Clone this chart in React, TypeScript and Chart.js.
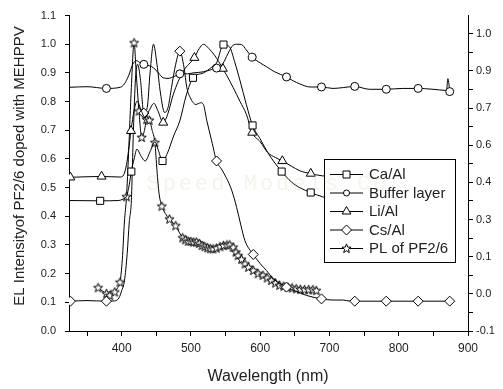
import React, { useEffect, useRef } from 'react';
import { Chart, registerables } from 'chart.js';

Chart.register(...registerables);

// ---------- data ----------
const X_TICKS = [350, 400, 450, 500, 550, 600, 650, 700, 750, 800, 850, 900];
const LEFT_TICKS = [0, 0.1, 0.2, 0.3, 0.4, 0.5, 0.6, 0.7, 0.8, 0.9, 1.0, 1.1];
const RIGHT_TICK_LABELS = ['-0.1', '0.0', '0.1', '0.3', '0.4', '0.6', '0.7', '0.9', '1.0'];

const LEGEND_LABELS = ['Ca/Al', 'Buffer layer', 'Li/Al', 'Cs/Al', 'PL of PF2/6'];

const CA_AL_NM = [325, 369, 395, 402, 407, 411, 414, 418, 422, 428, 434, 441, 448, 453, 459, 466, 475, 484, 493, 503, 518, 530, 537, 547, 556, 563, 571, 580, 589, 600, 611, 620, 631, 645, 657, 673, 690, 700];
const CA_AL_I = [0.455, 0.454, 0.455, 0.46, 0.47, 0.51, 0.556, 0.6, 0.634, 0.61, 0.593, 0.625, 0.66, 0.63, 0.593, 0.62, 0.68, 0.733, 0.82, 0.883, 0.9, 0.92, 0.935, 0.999, 0.99, 0.94, 0.872, 0.79, 0.717, 0.67, 0.622, 0.59, 0.556, 0.52, 0.5, 0.483, 0.468, 0.462];
const CA_AL_MARKS = [369, 414, 459, 503, 547, 589, 631, 673];

const BUFFER_NM = [325, 350, 378, 398, 404, 410, 416, 421, 427, 432, 440, 446, 453, 460, 467, 477, 484, 495, 503, 518, 530, 537, 544, 549, 554, 561, 566, 573, 580, 588.5, 600, 609, 620, 638, 648, 657, 672, 688.5, 705, 720, 736.5, 758, 782, 806, 828, 849.5, 869, 871, 872.5, 873.6];
const BUFFER_I = [0.85, 0.852, 0.846, 0.85, 0.862, 0.89, 0.93, 0.943, 0.935, 0.93, 0.925, 0.918, 0.9, 0.883, 0.881, 0.889, 0.897, 0.897, 0.9, 0.904, 0.912, 0.917, 0.924, 0.945, 0.97, 0.997, 1.0, 0.999, 0.98, 0.955, 0.935, 0.922, 0.905, 0.886, 0.872, 0.862, 0.851, 0.851, 0.846, 0.849, 0.853, 0.843, 0.843, 0.846, 0.846, 0.843, 0.839, 0.88, 0.86, 0.835];
const BUFFER_MARKS = [378, 432, 484, 537, 588.5, 638, 688.5, 736.5, 782, 828, 873.6];

const LI_AL_NM = [326, 371, 398, 403, 407, 410, 413.5, 418, 422.5, 428, 434, 440, 446.5, 452, 460, 467, 474.5, 489, 505, 512, 518, 526, 534, 540, 546, 552, 561, 571, 580, 588.5, 600, 611, 622, 632, 645, 657, 673, 690, 700];
const LI_AL_I = [0.536, 0.539, 0.537, 0.545, 0.58, 0.63, 0.698, 0.77, 0.802, 0.77, 0.744, 0.77, 0.794, 0.77, 0.727, 0.76, 0.825, 0.906, 0.953, 0.985, 1.0, 0.985, 0.962, 0.94, 0.915, 0.89, 0.849, 0.8, 0.756, 0.692, 0.66, 0.622, 0.605, 0.593, 0.575, 0.559, 0.549, 0.541, 0.54];
const LI_AL_MARKS = [326, 371, 413.5, 460, 505, 546, 588.5, 632, 673];

const CS_AL_NM = [326, 350, 378, 390, 396, 400, 404, 408, 411, 414, 417, 420, 423, 427, 432, 437, 441, 446, 451, 456, 462, 467, 472, 478, 484, 490, 494, 499, 507, 514, 518, 523, 530, 537, 544, 551, 559, 566, 572, 578, 590, 600, 609, 620, 638, 652, 667, 688.5, 705, 720, 730, 736.5, 782, 828, 873.6];
const CS_AL_I = [0.104, 0.106, 0.104, 0.105, 0.115, 0.14, 0.175, 0.27, 0.38, 0.454, 0.7, 0.88, 0.93, 0.88, 0.76, 0.78, 0.9, 1.0, 0.93, 0.83, 0.762, 0.78, 0.85, 0.93, 0.976, 0.92, 0.85, 0.814, 0.79, 0.796, 0.79, 0.733, 0.663, 0.593, 0.565, 0.535, 0.49, 0.431, 0.37, 0.315, 0.267, 0.235, 0.211, 0.18, 0.153, 0.138, 0.124, 0.112, 0.108, 0.108, 0.104, 0.104, 0.104, 0.104, 0.104];
const CS_AL_MARKS = [326, 378, 432, 484, 537, 590, 638, 688.5, 736.5, 782, 828, 873.6];

const PL_NM = [366, 372, 378, 383, 387, 390, 394, 397.6, 401, 404, 407, 410, 414, 418, 421, 425, 429, 433, 436, 440, 444, 448, 451, 454, 458, 463, 469, 473, 478, 483, 488, 492, 496, 500, 504, 508, 512, 516, 520, 524, 528, 532, 537, 542, 547, 552, 556, 561, 565, 568, 573, 578, 583, 590, 597, 604, 610, 616, 622, 628, 634, 640, 646, 652, 658, 664, 670, 676, 681];
const PL_I = [0.151, 0.14, 0.13, 0.124, 0.13, 0.136, 0.15, 0.17, 0.25, 0.38, 0.468, 0.62, 0.85, 1.005, 0.9, 0.767, 0.675, 0.7, 0.738, 0.735, 0.7, 0.657, 0.56, 0.48, 0.435, 0.41, 0.39, 0.38, 0.367, 0.345, 0.325, 0.318, 0.313, 0.312, 0.31, 0.31, 0.305, 0.298, 0.294, 0.29, 0.287, 0.286, 0.289, 0.294, 0.298, 0.3, 0.3, 0.292, 0.275, 0.263, 0.25, 0.234, 0.222, 0.211, 0.2, 0.194, 0.185, 0.176, 0.167, 0.159, 0.156, 0.153, 0.15, 0.147, 0.145, 0.144, 0.144, 0.144, 0.141];
const PL_MARKS = [366, 378, 383, 390, 397.6, 407, 418, 425, 429, 436, 440, 448, 458, 469, 478, 488, 492, 496, 500, 504, 508, 512, 516, 520, 524, 528, 532, 537, 542, 547, 552, 556, 561, 565, 568, 573, 578, 583, 590, 597, 604, 610, 616, 622, 628, 634, 640, 646, 652, 658, 664, 670, 676, 681];

// ---------- helpers ----------
const FONT = '"Liberation Sans", Arial, sans-serif';

function starPath(g: CanvasRenderingContext2D, cx: number, cy: number, ro: number, ri: number) {
  g.beginPath();
  for (let i = 0; i < 10; i++) {
    const r = i % 2 === 0 ? ro : ri;
    const a = -Math.PI / 2 + (i * Math.PI) / 5;
    const px = cx + r * Math.cos(a);
    const py = cy + r * Math.sin(a);
    if (i === 0) g.moveTo(px, py);
    else g.lineTo(px, py);
  }
  g.closePath();
}

function makeStar(): HTMLCanvasElement {
  const c = document.createElement('canvas');
  c.width = 11;
  c.height = 11;
  const g = c.getContext('2d')!;
  starPath(g, 5.5, 5.7, 4.8, 2.0);
  g.fillStyle = '#fff';
  g.fill();
  g.strokeStyle = '#000';
  g.lineWidth = 1;
  g.stroke();
  return c;
}

function drawMarker(g: CanvasRenderingContext2D, kind: string, x: number, y: number, star: HTMLCanvasElement) {
  g.save();
  g.fillStyle = '#fff';
  g.strokeStyle = '#000';
  g.lineWidth = 1;
  g.beginPath();
  if (kind === 'rect') {
    g.rect(x - 3.5, y - 3.5, 7, 7);
  } else if (kind === 'circle') {
    g.arc(x, y, 3, 0, Math.PI * 2);
  } else if (kind === 'triangle') {
    const r = 5;
    g.moveTo(x, y - r);
    g.lineTo(x + r * 0.866, y + r * 0.5);
    g.lineTo(x - r * 0.866, y + r * 0.5);
    g.closePath();
  } else if (kind === 'rectRot') {
    const r = 5;
    g.moveTo(x, y - r);
    g.lineTo(x + r, y);
    g.lineTo(x, y + r);
    g.lineTo(x - r, y);
    g.closePath();
  } else {
    g.drawImage(star, x - star.width / 2, y - star.height / 2);
    g.restore();
    return;
  }
  g.fill();
  g.stroke();
  g.restore();
}

export default function App() {
  const ref = useRef<HTMLCanvasElement | null>(null);

  useEffect(() => {
    const canvas = ref.current;
    if (!canvas) return;
    const star = makeStar();
    const styles: any[] = ['rect', 'circle', 'triangle', 'rectRot', star];
    const legendKinds = ['rect', 'circle', 'triangle', 'rectRot', 'star'];
    const radii = [5, 4, 5.2, 5, 5];

    const series = [
      { nm: CA_AL_NM, v: CA_AL_I, marks: CA_AL_MARKS },
      { nm: BUFFER_NM, v: BUFFER_I, marks: BUFFER_MARKS },
      { nm: LI_AL_NM, v: LI_AL_I, marks: LI_AL_MARKS },
      { nm: CS_AL_NM, v: CS_AL_I, marks: CS_AL_MARKS },
      { nm: PL_NM, v: PL_I, marks: PL_MARKS },
    ];

    const datasets = series.map((s, k) => ({
      label: LEGEND_LABELS[k],
      data: s.nm.map((x, i) => ({ x, y: s.v[i] })),
      borderColor: '#000',
      borderWidth: 1,
      backgroundColor: '#fff',
      pointBackgroundColor: '#fff',
      pointBorderColor: '#000',
      pointBorderWidth: 1,
      pointStyle: styles[k],
      pointRadius: (c: any) => (c.raw && s.marks.includes(c.raw.x) ? radii[k] : 0),
      pointHoverRadius: 0,
      cubicInterpolationMode: 'monotone' as const,
      fill: false,
      yAxisID: 'y',
    }));

    const overlay = {
      id: 'overlay',
      afterDatasetsDraw(chart: any) {
        const g: CanvasRenderingContext2D = chart.ctx;
        g.save();
        // legend box
        g.fillStyle = '#fff';
        g.fillRect(324, 159, 131, 103);
        g.strokeStyle = '#000';
        g.lineWidth = 1;
        g.strokeRect(324.5, 159.5, 131, 103);
        g.font = `15px ${FONT}`;
        g.textBaseline = 'middle';
        g.textAlign = 'left';
        for (let i = 0; i < LEGEND_LABELS.length; i++) {
          const y = 174 + i * 18.5;
          g.beginPath();
          g.moveTo(330, y + 0.5);
          g.lineTo(363, y + 0.5);
          g.strokeStyle = '#000';
          g.stroke();
          drawMarker(g, legendKinds[i], 346.5, y + 0.5, star);
          g.fillStyle = '#222';
          g.fillText(LEGEND_LABELS[i], 369, y + 1);
        }
        g.restore();
      },
      afterDraw(chart: any) {
        const g: CanvasRenderingContext2D = chart.ctx;
        g.save();
        g.fillStyle = '#222';
        g.textAlign = 'center';
        g.textBaseline = 'middle';
        g.font = `16px ${FONT}`;
        g.fillText('Wavelength (nm)', 268, 377);
        g.translate(20, 166);
        g.rotate(-Math.PI / 2);
        g.font = `15px ${FONT}`;
        g.fillText('EL Intensityof PF2/6 doped with MEHPPV', 0, 0);
        g.restore();
        // faint watermark
        g.save();
        g.fillStyle = 'rgba(200,190,150,0.18)';
        g.font = `22px "Liberation Mono", monospace`;
        g.textAlign = 'center';
        g.textBaseline = 'middle';
        try { (g as any).letterSpacing = '3px'; } catch (e) {}
        g.fillText('Speed Models Co', 268, 184);
        g.restore();
      },
    };

    const tickFont = { size: 11, family: FONT };

    const chart = new Chart(canvas, {
      type: 'line',
      data: { datasets: datasets as any },
      options: {
        responsive: false,
        animation: false,
        events: [],
        layout: { padding: { top: 14, left: 0, right: 0, bottom: 0 } },
        plugins: { legend: { display: false }, tooltip: { enabled: false } },
        scales: {
          x: {
            type: 'linear',
            min: 324,
            max: 900,
            afterBuildTicks: (s: any) => {
              s.ticks = X_TICKS.map((v) => ({ value: v }));
            },
            afterFit: (s: any) => {
              s.height = 58;
            },
            ticks: {
              autoSkip: false,
              maxRotation: 0,
              padding: 5,
              color: '#222',
              font: { size: 12, family: FONT },
              callback: (v: any) => (v % 100 === 0 ? String(v) : ''),
            },
            grid: { drawOnChartArea: false, drawTicks: true, tickLength: 5, color: '#000' },
            border: { display: true, color: '#000', width: 1 },
          },
          y: {
            type: 'linear',
            position: 'left',
            min: 0,
            max: 1.1,
            afterBuildTicks: (s: any) => {
              s.ticks = LEFT_TICKS.map((v) => ({ value: v }));
            },
            afterFit: (s: any) => {
              s.width = 69;
            },
            ticks: {
              autoSkip: false,
              padding: 9,
              color: '#222',
              font: tickFont,
              callback: (v: any) => Number(v).toFixed(1),
            },
            grid: { drawOnChartArea: false, drawTicks: true, tickLength: 4, color: '#000' },
            border: { display: true, color: '#000', width: 1 },
          },
          y2: {
            type: 'linear',
            position: 'right',
            min: 0,
            max: 8.49,
            afterBuildTicks: (s: any) => {
              const t: any[] = [];
              for (let i = 0; i <= 16; i++) t.push({ value: i / 2 });
              s.ticks = t;
            },
            afterFit: (s: any) => {
              s.width = 35;
            },
            ticks: {
              autoSkip: false,
              padding: 3,
              color: '#222',
              font: tickFont,
              callback: (v: any) => (Number.isInteger(v) ? RIGHT_TICK_LABELS[v] : ''),
            },
            grid: { drawOnChartArea: false, drawTicks: true, tickLength: 5, color: '#000' },
            border: { display: true, color: '#000', width: 1 },
          },
        },
      } as any,
      plugins: [overlay],
    });

    return () => chart.destroy();
  }, []);

  return (
    <div style={{ position: 'fixed', left: 0, top: 0, width: 503, height: 389, background: '#fff' }}>
      <canvas ref={ref} width={503} height={389} style={{ width: 503, height: 389, display: 'block' }} />
    </div>
  );
}
